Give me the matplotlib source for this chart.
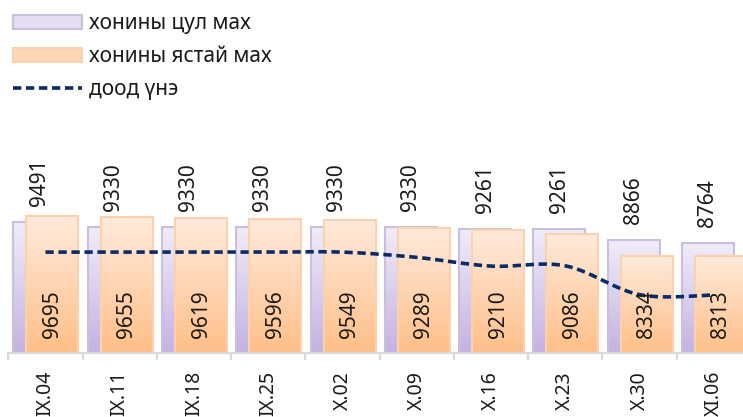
import numpy as np
import matplotlib
matplotlib.use("Agg")
import matplotlib.pyplot as plt
from matplotlib.patches import Patch
from matplotlib.lines import Line2D
from matplotlib.colors import LinearSegmentedColormap

plt.rcParams['font.family'] = ['Noto Sans', 'DejaVu Sans']

categories = ["IX.04", "IX.11", "IX.18", "IX.25", "X.02", "X.09", "X.16", "X.23", "X.30", "XI.06"]
tsul_mah = [9491, 9330, 9330, 9330, 9330, 9330, 9261, 9261, 8866, 8764]
yastai_mah = [9695, 9655, 9619, 9596, 9549, 9289, 9210, 9086, 8334, 8313]
dood_une = [8460, 8460, 8460, 8460, 8460, 8280, 7980, 7990, 7000, 6990]
series_names = ["хонины цул мах", "хонины ястай мах", "доод үнэ"]

W, H = 743, 417
fig = plt.figure(figsize=(W / 100, H / 100), dpi=100)
ymin, ymax = 5000, 11000
units_per_px = 34.3
base_px = 353
height_px = (ymax - ymin) / units_per_px
ax = fig.add_axes([8.3 / W, (H - base_px) / H, 742.7 / W, height_px / H])
ax.set_xlim(-0.5, len(categories) - 0.5)
ax.set_ylim(ymin, ymax)

x = np.arange(len(categories))
bw = 0.70
off_p, off_o = -0.08, 0.095

purple_cmap = LinearSegmentedColormap.from_list("p", ["#C4B2E2", "#F1ECF9"])
orange_cmap = LinearSegmentedColormap.from_list("o", ["#FFBF88", "#FFEADC"])
grad = np.linspace(0, 1, 256).reshape(-1, 1)


def gradient_bars(xpos, vals, cmap, edge, z):
    bars = ax.bar(xpos, np.array(vals) - ymin, bw, bottom=ymin, facecolor='none',
                  edgecolor=edge, linewidth=1.5, zorder=z + 0.1)
    for b in bars:
        x0, y0, w, h = b.get_x(), b.get_y(), b.get_width(), b.get_height()
        im = ax.imshow(grad, extent=[x0, x0 + w, y0, y0 + h], origin='lower',
                       aspect='auto', cmap=cmap, zorder=z, interpolation='bilinear')
        im.set_clip_path(b)
    return bars


bars_p = gradient_bars(x + off_p, tsul_mah, purple_cmap, "#CABFDF", 1)
bars_o = gradient_bars(x + off_o, yastai_mah, orange_cmap, "#FCD2AC", 2)
ax.set_xlim(-0.5, len(categories) - 0.5)
ax.set_ylim(ymin, ymax)

# smoothed line (Catmull-Rom style, like spreadsheet smoothing)
px = x.astype(float)
py = np.array(dood_une, dtype=float)
pts = np.column_stack([px, py])
ext = np.vstack([pts[0], pts, pts[-1]])
curve = []
t = np.linspace(0, 1, 30)
for i in range(1, len(ext) - 2):
    p0, p1, p2, p3 = ext[i - 1], ext[i], ext[i + 1], ext[i + 2]
    c1 = p1 + (p2 - p0) / 6
    c2 = p2 - (p3 - p1) / 6
    seg = ((1 - t) ** 3)[:, None] * p1 + (3 * (1 - t) ** 2 * t)[:, None] * c1 + \
          (3 * (1 - t) * t ** 2)[:, None] * c2 + (t ** 3)[:, None] * p2
    curve.append(seg if i == 1 else seg[1:])
curve = np.vstack(curve)
line_color = "#0B2A66"
lw = 2.6
dash = (2.3, 1.3)
ax.plot(curve[:, 0], curve[:, 1], color=line_color, linewidth=lw,
        dashes=dash, zorder=3, dash_capstyle='butt')

fs = 15
txt_color = "#1A1A1A"
for xi, v in zip(x + off_p, tsul_mah):
    ax.annotate(str(v), (xi, v), xytext=(0, 11.5), textcoords='offset points',
                rotation=90, ha='center', va='bottom', fontsize=fs, color=txt_color, zorder=4)
for xi, v in zip(x + off_o, yastai_mah):
    ax.annotate(str(v), (xi, ymin), xytext=(0, 10.8), textcoords='offset points',
                rotation=90, ha='center', va='bottom', fontsize=fs, color=txt_color, zorder=4)

for s in ['top', 'right', 'left']:
    ax.spines[s].set_visible(False)
ax.spines['bottom'].set_color("#D9D9D9")
ax.spines['bottom'].set_linewidth(1.6)
ax.set_yticks([])
ax.set_xticks(x)
ax.set_xticklabels(categories, rotation=90, fontsize=14, color=txt_color, va='top')
ax.tick_params(axis='x', which='major', length=0, pad=13)
ax.set_xticks(np.arange(len(categories) + 1) - 0.5, minor=True)
ax.tick_params(axis='x', which='minor', length=5, width=1.6, color="#D9D9D9")

handles = [
    Patch(facecolor="#E5DEF3", edgecolor="#CABFDF", linewidth=1.5),
    Patch(facecolor="#FFD7B8", edgecolor="#FCD2AC", linewidth=1.5),
    Line2D([0], [0], color=line_color, linewidth=lw, dashes=dash),
]
fig.legend(handles, series_names, loc='upper left', bbox_to_anchor=(9 / W, 1 - 9 / H),
           frameon=False, fontsize=fs, handlelength=3.3, handleheight=0.67,
           handletextpad=0.35, labelspacing=0.58, borderaxespad=0, borderpad=0.2,
           labelcolor=txt_color)

fig.savefig("out.png", dpi=100)
